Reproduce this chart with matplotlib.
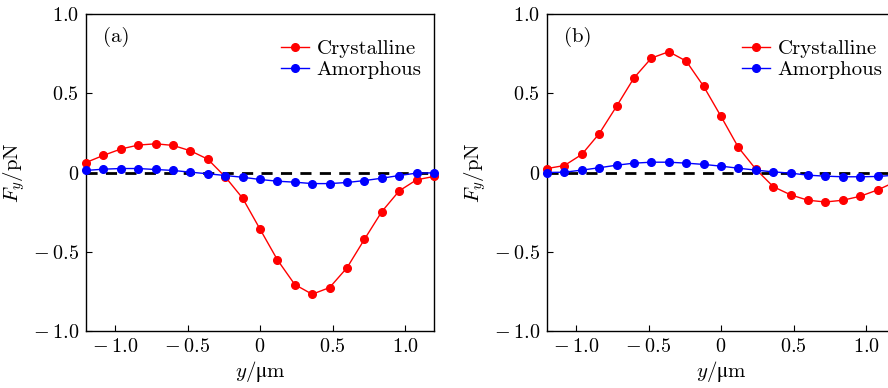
import matplotlib
matplotlib.use("Agg")
import matplotlib.pyplot as plt
import numpy as np

plt.rcParams['mathtext.fontset'] = 'cm'
plt.rcParams['font.family'] = ['cmr10', 'DejaVu Serif']
plt.rcParams['axes.unicode_minus'] = False

y_pos = [-1.2, -1.08, -0.96, -0.84, -0.72, -0.60, -0.48, -0.36, -0.24, -0.12, 0.0,
         0.12, 0.24, 0.36, 0.48, 0.60, 0.72, 0.84, 0.96, 1.08, 1.20]

a_cryst = [0.063, 0.108, 0.148, 0.173, 0.181, 0.171, 0.137, 0.084, -0.027, -0.162, -0.357,
           -0.551, -0.707, -0.768, -0.726, -0.601, -0.422, -0.247, -0.116, -0.046, -0.025]
a_amorph = [0.013, 0.021, 0.025, 0.025, 0.019, 0.013, 0.002, -0.008, -0.019, -0.030, -0.044,
            -0.055, -0.061, -0.070, -0.070, -0.063, -0.051, -0.036, -0.019, -0.004, -0.002]

b_cryst = [0.025, 0.044, 0.114, 0.245, 0.418, 0.597, 0.722, 0.762, 0.703, 0.544, 0.354,
           0.158, 0.021, -0.089, -0.141, -0.175, -0.186, -0.175, -0.150, -0.110, -0.06]
b_amorph = [0.0, 0.002, 0.015, 0.030, 0.046, 0.059, 0.065, 0.065, 0.059, 0.051, 0.040,
            0.027, 0.015, 0.004, -0.004, -0.017, -0.023, -0.027, -0.027, -0.025, -0.017]

xticks = [-1.0, -0.5, 0.0, 0.5, 1.0]
xticklabels = [r'$-\:1.0$', r'$-\:0.5$', r'$0$', r'$0.5$', r'$1.0$']
yticks = [-1.0, -0.5, 0.0, 0.5, 1.0]
yticklabels = [r'$-\:1.0$', r'$-\:0.5$', r'$0$', r'$0.5$', r'$1.0$']

W, H = 888, 388
fig = plt.figure(figsize=(W / 100, H / 100), dpi=100)

panels = [("(a)", a_cryst, a_amorph, 86), ("(b)", b_cryst, b_amorph, 547)]
for tag, cr, am, left in panels:
    ax = fig.add_axes([left / W, (H - 331) / H, 348 / W, 317 / H])
    ax.axhline(0, color='black', lw=2, ls=(0, (4, 3)), zorder=1)
    ax.plot(y_pos, cr, '-o', color='#ff0000', lw=1, ms=5.5, label='Crystalline', zorder=3, clip_on=False)
    ax.plot(y_pos, am, '-o', color='#0000ff', lw=1, ms=5.5, label='Amorphous', zorder=4, clip_on=False)
    ax.set_xlim(-1.2, 1.2)
    ax.set_ylim(-1.0, 1.0)
    ax.set_xticks(xticks)
    ax.set_xticklabels(xticklabels)
    ax.set_yticks(yticks)
    ax.set_yticklabels(yticklabels)
    ax.tick_params(direction='in', length=4, width=0.8, labelsize=14.5, pad=5)
    for s in ax.spines.values():
        s.set_linewidth(1.0)
    ax.set_xlabel(r'$y/\mathrm{μm}$', fontsize=15, labelpad=2)
    ax.set_ylabel(r'$F_y$/pN', fontsize=15, labelpad=4)
    ax.text(0.05, 0.927, tag, transform=ax.transAxes, fontsize=15, va='center', ha='left')
    ax.legend(loc='upper right', bbox_to_anchor=(0.988, 0.945), frameon=False, fontsize=15,
              handlelength=1.35, handletextpad=0.35, labelspacing=0.1, borderaxespad=0.0)

fig.savefig('out.png', dpi=100)
